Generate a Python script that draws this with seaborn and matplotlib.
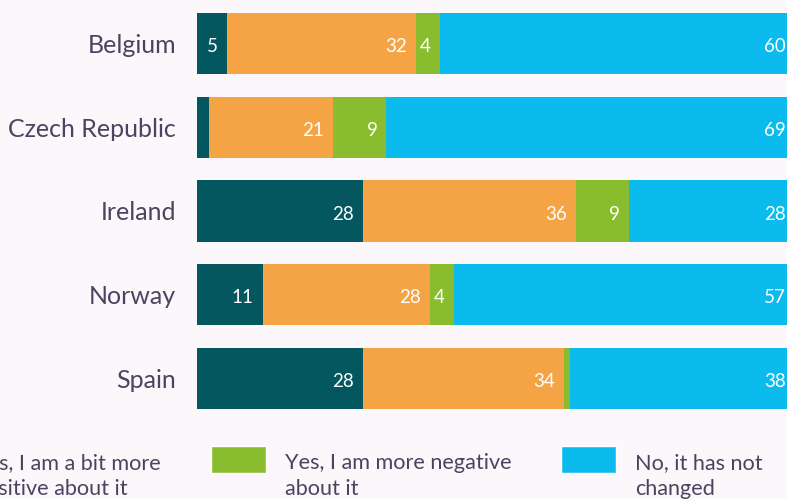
import numpy as np
import pandas as pd
import seaborn as sns
import matplotlib.pyplot as plt
from matplotlib.patches import Patch, Rectangle
from matplotlib.legend_handler import HandlerPatch

# data (shares per country, rounded)
countries = ["Belgium", "Czech Republic", "Ireland", "Norway", "Spain"]
much_more_positive = [5, 2, 28, 11, 28]
bit_more_positive = [32, 21, 36, 28, 34]
more_negative = [4, 9, 9, 4, 1]
not_changed = [60, 69, 28, 57, 38]

series_labels = [
    "Yes, I am much more\npositive about it",
    "Yes, I am a bit more\npositive about it",
    "Yes, I am more negative\nabout it",
    "No, it has not\nchanged",
]
colors = ["#04565F", "#F5A445", "#8ABD2E", "#0CBBEE"]
bg = "#FBF7FB"
txt = "#4D4360"

df = pd.DataFrame(
    {
        series_labels[0]: much_more_positive,
        series_labels[1]: bit_more_positive,
        series_labels[2]: more_negative,
        series_labels[3]: not_changed,
    },
    index=countries,
)
# rounded values don't always add up to 100, so rescale each row
share = df.div(df.sum(axis=1), axis=0) * 100
cum = share.cumsum(axis=1)

sns.set_theme(style="white")
plt.rcParams["font.family"] = ["Lato", "DejaVu Sans"]

fig = plt.figure(figsize=(7.87, 4.99), dpi=100, facecolor=bg)
ax = fig.add_axes([197 / 787, 1 - 420 / 499, 598 / 787, 418 / 499])
ax.set_facecolor(bg)

# stacked bars: draw the longest cumulative first, shorter ones on top
for col, color in reversed(list(zip(series_labels, colors))):
    sns.barplot(x=cum[col].values, y=countries, orient="h", color=color,
                saturation=1, width=0.73, linewidth=0, ax=ax)

ax.set_xlim(0, 100)
ax.set_xticks([])
ax.set_xlabel("")
ax.set_ylabel("")
ax.tick_params(axis="y", length=0, pad=15, labelsize=18, labelcolor=txt)
sns.despine(ax=ax, left=True, bottom=True)

# value labels at the right end of each segment
for i, country in enumerate(countries):
    for col in series_labels:
        val = df.loc[country, col]
        if val >= 3:
            ax.annotate(str(val), xy=(cum.loc[country, col], i),
                        xytext=(-9, -3), textcoords="offset pixels",
                        ha="right", va="center", color="white", fontsize=13.5,
                        annotation_clip=False)


def top_swatch(legend, orig_handle, xdescent, ydescent, width, height, fontsize):
    h = 1.25 * fontsize
    return Rectangle((-xdescent, -ydescent + height - h + 0.6 * fontsize), width, h)


handles = [Patch(facecolor=c, label=l) for c, l in zip(colors, series_labels)]
leg = fig.legend(handles=handles, loc="upper right", bbox_to_anchor=(763 / 787, 1 - 453 / 499),
                 ncol=4, frameon=False, fontsize=15.6, labelcolor=txt,
                 handlelength=2.54, handleheight=2.2, handletextpad=0.88,
                 columnspacing=2.3, borderpad=0, borderaxespad=0,
                 handler_map={Patch: HandlerPatch(patch_func=top_swatch)})
for t in leg.get_texts():
    t.set_linespacing(1.4)

fig.savefig("out.png", dpi=100, facecolor=bg)
